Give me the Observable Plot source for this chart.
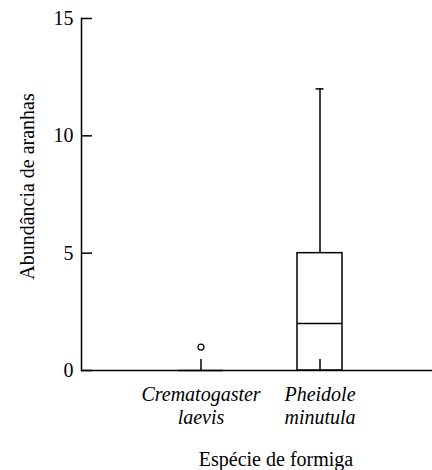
<!DOCTYPE html>
<html>
<head>
<meta charset="utf-8">
<script src="https://cdn.jsdelivr.net/npm/d3@7"></script>
<script src="https://cdn.jsdelivr.net/npm/@observablehq/plot@0.6"></script>
<style>
  html, body { margin: 0; padding: 0; background: #fff; }
</style>
</head>
<body>
<div id="chart"></div>
<script>
// ---- Data ----
const species = ["Crematogaster laevis", "Pheidole minutula"];
const speciesLines = ["Crematogaster\nlaevis", "Pheidole\nminutula"];
const whiskerLow = [0, 0];
const q1 = [0, 0];
const median = [0, 2];
const q3 = [0, 5];
const whiskerHigh = [0, 12];
const outlierSpecies = ["Crematogaster laevis"];
const outlierValues = [1];
const yTicks = [0, 5, 10, 15];
const yTitle = "Abundância de aranhas";
const xTitle = "Espécie de formiga";

const boxes = species.map((s, i) => ({
  species: s, low: whiskerLow[i], q1: q1[i], median: median[i], q3: q3[i], high: whiskerHigh[i]
}));
const outliers = outlierSpecies.map((s, i) => ({species: s, value: outlierValues[i]}));
const labelOf = new Map(species.map((s, i) => [s, speciesLines[i]]));

const font = "Times New Roman";

const chart = Plot.plot({
  width: 432,
  height: 470,
  marginLeft: 81,
  marginRight: 0,
  marginTop: 18,
  marginBottom: 100,
  x: {type: "band", domain: species, paddingInner: 0.6234, paddingOuter: 0.78, align: 0.52, axis: null},
  y: {domain: [0, 15], axis: null},
  marks: [
    Plot.barY(boxes, {x: "species", y1: "q1", y2: "q3", fill: "white", stroke: "black", strokeWidth: 1.5}),
    Plot.tickY(boxes, {x: "species", y: "median", stroke: "black", strokeWidth: 1.5}),
    Plot.ruleX(boxes, {x: "species", y1: "q3", y2: "high", stroke: "black", strokeWidth: 1.5}),
    Plot.ruleX(boxes, {x: "species", y1: "low", y2: "q1", stroke: "black", strokeWidth: 1.5}),
    Plot.tickY(boxes.filter(d => d.high > d.q3), {x: "species", y: "high", stroke: "black", strokeWidth: 1.5, inset: 18.5}),
    Plot.dot(outliers, {x: "species", y: "value", r: 3, stroke: "black", fill: "white", strokeWidth: 1.2}),
    Plot.ruleY([0], {stroke: "black", strokeWidth: 1.5}),
    Plot.frame({anchor: "left", stroke: "black", strokeWidth: 1.5}),
    Plot.ruleY(yTicks, {insetRight: 340, stroke: "black", strokeWidth: 1.5}),
    Plot.ruleX(species, {x: d => d, y1: 0, y2: 0, insetBottom: 11, stroke: "black", strokeWidth: 1.5}),
    Plot.axisY({ticks: yTicks, tickSize: 0, tickPadding: 8, fontSize: 20, fontFamily: font, fill: "black", label: null}),
    Plot.axisX({tickSize: 0, tickPadding: 14, fontSize: 20, fontFamily: font, fontStyle: "italic", fill: "black", lineHeight: 1.15, tickFormat: d => labelOf.get(d), label: null}),
    Plot.text([yTitle], {frameAnchor: "left", text: d => d, rotate: -90, dx: -54, dy: -8, fontSize: 20, fontFamily: font, fill: "black", textAnchor: "middle", lineAnchor: "middle"}),
    Plot.text([xTitle], {frameAnchor: "bottom", text: d => d, dx: 19, dy: 89, fontSize: 20, fontFamily: font, fill: "black", textAnchor: "middle", lineAnchor: "middle"})
  ]
});
document.getElementById("chart").appendChild(chart);
</script>
</body>
</html>
